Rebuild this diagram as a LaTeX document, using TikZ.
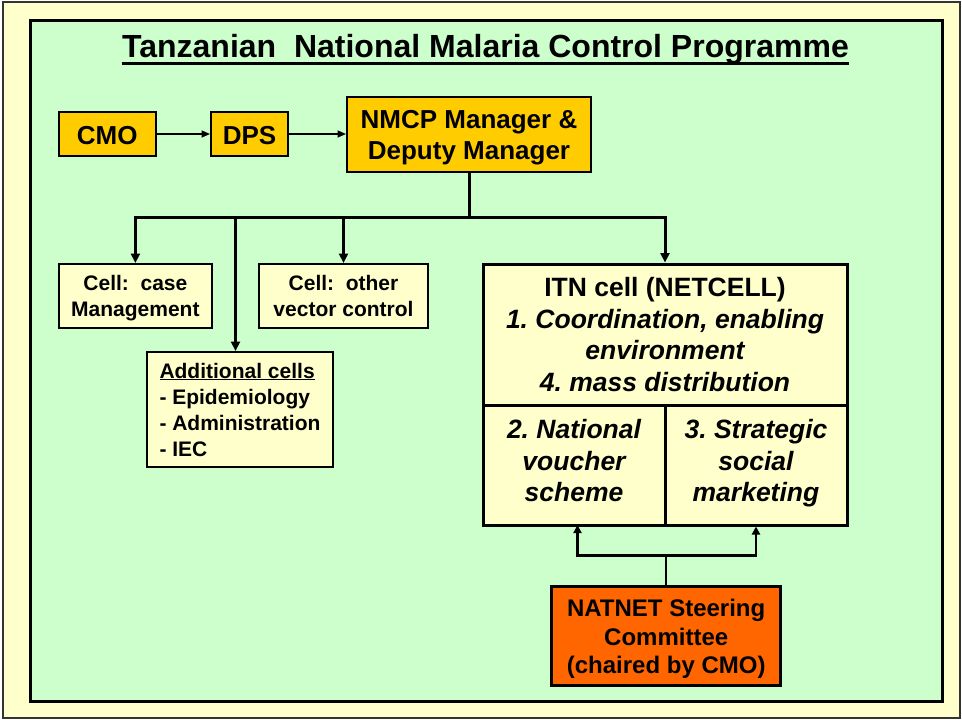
\documentclass[tikz,border=0pt]{standalone}
\usepackage{fontspec}
\setmainfont{Liberation Sans}
\usetikzlibrary{arrows.meta}
\definecolor{paleyellow}{HTML}{FFFFCC}
\definecolor{palegreen}{HTML}{CCFFCC}
\definecolor{gold}{HTML}{FFCC00}
\definecolor{steerorange}{HTML}{FF6600}
\definecolor{framegray}{HTML}{333333}

\tikzset{
  treetip/.tip={Triangle[length=9.5pt,width=9pt]},
  forktip/.tip={Triangle[length=8pt,width=8pt]},
  % text block extent: height above the last baseline, depth below it
  vpad/.style 2 args={text height=#1, text depth=#2},
}

\begin{document}
\frenchspacing
\begin{tikzpicture}[x=1pt,y=-1pt,
  box/.style={draw=black, line width=2pt, inner sep=0pt, align=center},
  goldbox/.style={box, fill=gold, font=\fontsize{26}{31}\selectfont\bfseries},
  cellbox/.style={box, fill=paleyellow, font=\fontsize{21}{26}\selectfont\bfseries},
  itnbox/.style={box, line width=3pt, fill=paleyellow, font=\fontsize{26.5}{31.5}\selectfont\bfseries},
  subbox/.style={itnbox, font=\fontsize{26.5}{31.5}\selectfont\bfseries\itshape},
  steerbox/.style={box, line width=3pt, fill=steerorange, font=\fontsize{24}{28.5}\selectfont\bfseries},
  thinarrow/.style={line width=1.5pt, -{Triangle[length=8.5pt,width=7pt]}},
  treeline/.style={line width=3pt},
]
% page and frames
\useasboundingbox (0,0) rectangle (962,720);
\fill[white] (0,0) rectangle (962,720);
\draw[framegray, line width=2pt, fill=paleyellow] (2.5,1.5) rectangle (959.5,717.5);
\draw[black, line width=3pt, fill=palegreen] (30.5,20.5) rectangle (942.5,701.3);

% heading
\node[inner sep=0pt, anchor=base, font=\fontsize{32}{38}\selectfont\bfseries] (title) at (485.5,57.3)
  {Tanzanian\ \ National Malaria Control Programme};
\draw[line width=3.5pt] ([yshift=-6pt]title.base west) -- ([yshift=-6pt]title.base east);

% management chain
\node[goldbox, vpad={25.5pt}{5.5pt}, minimum width=96.7pt, minimum height=44pt] (cmo) at (107.3,134) {CMO};
\node[goldbox, vpad={25.5pt}{5.5pt}, minimum width=77pt, minimum height=44pt] (dps) at (249.5,134) {DPS};
\node[goldbox, vpad={55.8pt}{6.2pt}, minimum width=244pt, minimum height=75.6pt] (nmcp) at (469,134.5)
  {NMCP Manager \&\\Deputy Manager};

\draw[thinarrow] (cmo.east) -- (dps.west);
\draw[thinarrow] (dps.east) -- (dps.east -| nmcp.west);

% cells
\node[cellbox, vpad={46.7pt}{5.3pt}, minimum width=152.7pt, minimum height=64pt] (casecell) at (135.4,296)
  {Cell:\ \ case\\Management};
\node[cellbox, vpad={46.7pt}{5.3pt}, minimum width=169pt, minimum height=64pt] (othercell) at (343.5,296)
  {Cell:\ \ other\\vector control};
\node[cellbox, vpad={98.5pt}{5.5pt}, minimum width=186pt, minimum height=115pt, align=left] (addcells) at (240,409.5)
  {\underline{Additional cells}\\- Epidemiology\\- Administration\\- IEC};

% ITN cell with its two sub-units
\node[itnbox, vpad={119.7pt}{6.3pt}, minimum width=364pt, minimum height=141pt] (itntop) at (665,334.5)
  {ITN cell (NETCELL)\\\itshape 1. Coordination, enabling\\\itshape environment\\\itshape 4. mass distribution};
\node[subbox, vpad={88.2pt}{14.8pt}, minimum width=182pt, minimum height=120pt] (voucher) at (574,465)
  {2. National\\voucher\\scheme};
\node[subbox, vpad={88.2pt}{14.8pt}, minimum width=182pt, minimum height=120pt] (social) at (756,465)
  {3. Strategic\\social\\marketing};

% steering committee
\node[steerbox, vpad={80.2pt}{5.3pt}, minimum width=229pt, minimum height=99.3pt] (natnet) at (666.2,636.3)
  {NATNET Steering\\Committee\\(chaired by CMO)};

% distribution bus below the programme manager
\coordinate (bus) at (469,217.7);
\coordinate (addtap) at (235.5,217.7);
\draw[treeline] (nmcp.south) -- (bus);
\draw[treeline, {treetip}-{treetip}] (casecell.north) -- (bus -| casecell.north) -- (bus -| itntop.north) -- (itntop.north);
\draw[treeline, -{treetip}] (bus -| othercell.north) -- (othercell.north);
\draw[treeline, -{treetip}] ([yshift=-1.5pt]addtap) -- (addtap |- addcells.north);

% steering committee feeding the two sub-units
\coordinate (fork) at (666.2,555.7);
\coordinate (vtap) at (577.5,525);
\draw[line width=2.5pt] (natnet.north) -- (fork);
\draw[line width=2.5pt, {forktip}-{forktip}]
  (vtap) -- (vtap |- fork) -- (fork -| social.south) -- (social.south);
\end{tikzpicture}
\end{document}
